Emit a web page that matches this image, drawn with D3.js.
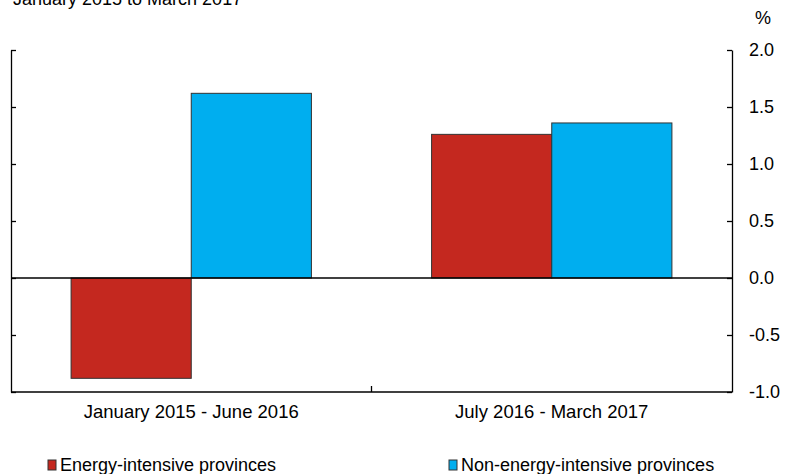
<!DOCTYPE html>
<html lang="en">
<head>
<meta charset="UTF-8">
<title>Energy-intensive vs non-energy-intensive provinces</title>
<script src="https://cdn.jsdelivr.net/npm/d3@7"></script>
<style>
  body { margin: 0; background: #fff; }
  svg text { font-family: "Liberation Sans", Arial, sans-serif; fill: #000; }
</style>
</head>
<body>
<div id="chart"></div>
<script>
// data
var periods = ["January 2015 - June 2016", "July 2016 - March 2017"];
var seriesNames = ["Energy-intensive provinces", "Non-energy-intensive provinces"];
var energyIntensive = [-0.88, 1.26];
var nonEnergyIntensive = [1.62, 1.36];
var yTicks = [-1.0, -0.5, 0.0, 0.5, 1.0, 1.5, 2.0];
var colors = ["#c4281f", "#00aeef"];

var width = 785, height = 474;
var plot = { left: 11, right: 732, top: 50, bottom: 392 };

var svg = d3.select("#chart").append("svg")
    .attr("width", width)
    .attr("height", height);

var y = d3.scaleLinear().domain([-1, 2]).range([plot.bottom, plot.top]);
var x0 = d3.scaleBand().domain(periods).range([plot.left, plot.right]).padding(0);
var x1 = d3.scaleBand().domain(seriesNames)
    .range([0, x0.bandwidth()]).paddingOuter(0.5).paddingInner(0);

var fmt = function (v) { return d3.format(".1f")(v).replace("\u2212", "-"); };

// subtitle, cut off at top like the original
svg.append("text")
    .attr("x", 13).attr("y", 5)
    .style("font-size", "18px")
    .text("January 2015 to March 2017");

// bars
var rows = periods.map(function (p, i) {
    return [
        { period: p, name: seriesNames[0], value: energyIntensive[i], color: colors[0] },
        { period: p, name: seriesNames[1], value: nonEnergyIntensive[i], color: colors[1] }
    ];
});

svg.append("g").selectAll("g")
    .data(rows)
    .enter().append("g")
    .attr("transform", function (d) { return "translate(" + x0(d[0].period) + ",0)"; })
    .selectAll("rect")
    .data(function (d) { return d; })
    .enter().append("rect")
    .attr("x", function (d) { return x1(d.name); })
    .attr("width", x1.bandwidth())
    .attr("y", function (d) { return y(Math.max(0, d.value)); })
    .attr("height", function (d) { return Math.abs(y(d.value) - y(0)); })
    .attr("fill", function (d) { return d.color; })
    .attr("stroke", "#333")
    .attr("stroke-width", 1);

// zero line
svg.append("line")
    .attr("x1", plot.left).attr("x2", plot.right)
    .attr("y1", y(0)).attr("y2", y(0))
    .attr("stroke", "#000").attr("stroke-width", 1.3);

// right axis with labels
var right = svg.append("g")
    .attr("transform", "translate(" + plot.right + ",0)")
    .call(d3.axisRight(y).tickValues(yTicks).tickFormat(fmt)
        .tickSizeInner(-5).tickSizeOuter(0).tickPadding(17));
right.select(".domain").attr("stroke", "#000").attr("stroke-width", 1.3);
right.selectAll(".tick line").attr("stroke", "#000").attr("stroke-width", 1.3);
right.selectAll("text").style("font-size", "18px")
    .attr("font-family", null).attr("fill", "#000");

// left axis, ticks only
var left = svg.append("g")
    .attr("transform", "translate(" + plot.left + ",0)")
    .call(d3.axisLeft(y).tickValues(yTicks).tickFormat("").tickSizeInner(-5).tickSizeOuter(0));
left.select(".domain").attr("stroke", "#000").attr("stroke-width", 1.3);
left.selectAll(".tick line").attr("stroke", "#000").attr("stroke-width", 1.3);

// bottom axis
svg.append("line")
    .attr("x1", plot.left).attr("x2", plot.right)
    .attr("y1", plot.bottom).attr("y2", plot.bottom)
    .attr("stroke", "#000").attr("stroke-width", 1.3);
svg.append("line")
    .attr("x1", x0(periods[1])).attr("x2", x0(periods[1]))
    .attr("y1", plot.bottom).attr("y2", plot.bottom - 6)
    .attr("stroke", "#000").attr("stroke-width", 1.3);

svg.append("g").selectAll("text")
    .data(periods)
    .enter().append("text")
    .attr("x", function (d) { return x0(d) + x0.bandwidth() / 2; })
    .attr("y", 418)
    .attr("text-anchor", "middle")
    .style("font-size", "18.5px")
    .text(function (d) { return d; });

// unit
svg.append("text")
    .attr("x", 763).attr("y", 24)
    .attr("text-anchor", "middle")
    .style("font-size", "18px")
    .text("%");

// legend
var legendX = [48, 449];
var legend = svg.append("g").selectAll("g")
    .data(seriesNames)
    .enter().append("g")
    .attr("transform", function (d, i) { return "translate(" + legendX[i] + ",460)"; });
legend.append("rect")
    .attr("width", 8).attr("height", 10)
    .attr("fill", function (d, i) { return colors[i]; })
    .attr("stroke", "#333").attr("stroke-width", 1);
legend.append("text")
    .attr("x", 12).attr("y", 11)
    .style("font-size", "18px")
    .text(function (d) { return d; });
</script>
</body>
</html>
